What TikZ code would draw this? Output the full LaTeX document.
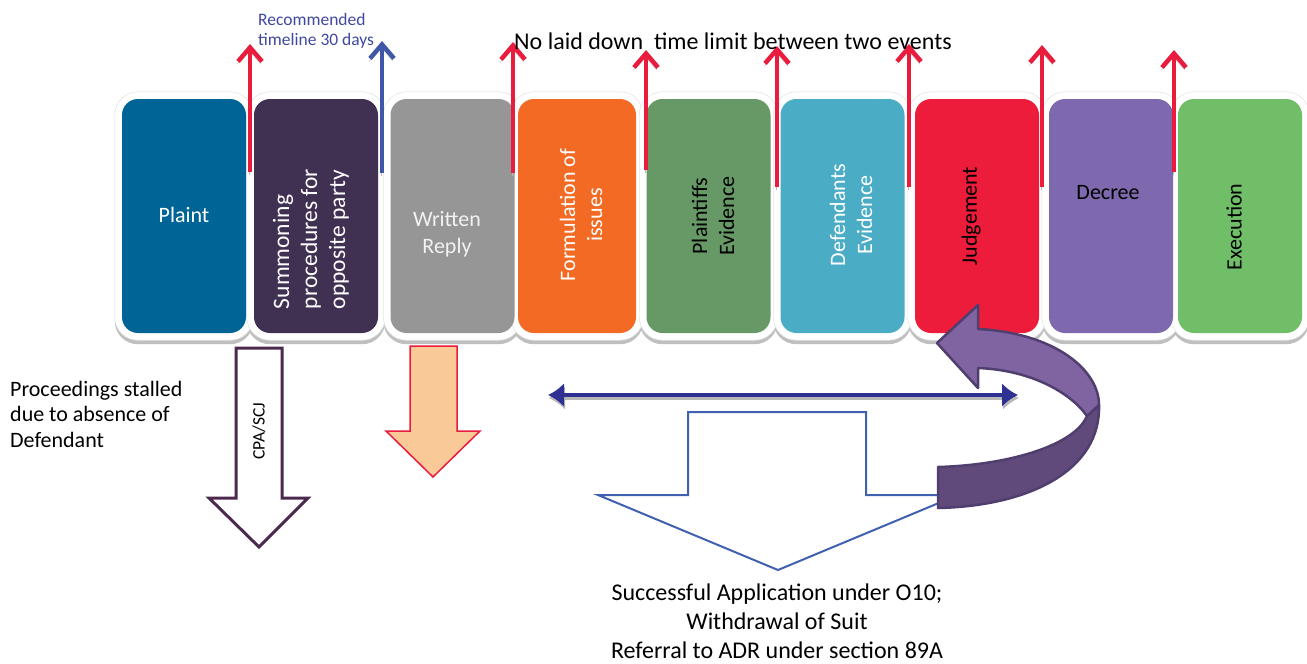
\documentclass[tikz,border=0pt]{standalone}
\usepackage{fontspec}
\setmainfont{Carlito}
\usetikzlibrary{arrows.meta,backgrounds}

\definecolor{plaintblue}{RGB}{0,100,150}
\definecolor{summonpurple}{RGB}{64,49,82}
\definecolor{replygray}{RGB}{150,150,150}
\definecolor{replytext}{RGB}{242,242,242}
\definecolor{issuesorange}{RGB}{242,106,36}
\definecolor{pevidgreen}{RGB}{102,153,102}
\definecolor{devidcyan}{RGB}{75,172,198}
\definecolor{judgered}{RGB}{237,28,58}
\definecolor{decreepurple}{RGB}{127,105,174}
\definecolor{execgreen}{RGB}{112,191,104}
\definecolor{arrowred}{RGB}{233,28,62}
\definecolor{arrowblue}{RGB}{63,87,166}
\definecolor{recblue}{RGB}{63,72,160}
\definecolor{spanblue}{RGB}{46,49,146}
\definecolor{outcomeblue}{RGB}{64,96,176}
\definecolor{cpaplum}{RGB}{76,42,80}
\definecolor{peach}{RGB}{250,201,152}
\definecolor{curvelight}{RGB}{128,100,162}
\definecolor{curvedark}{RGB}{96,74,123}
\definecolor{curveedge}{RGB}{80,62,110}

\tikzset{
  stage/.style={fill=#1, rounded corners=16pt, minimum width=124pt, minimum height=234pt, inner sep=0pt},
  lbl/.style={text=#1, font=\fontsize{22}{27}\selectfont, align=center},
  uparrow/.style={draw=#1, line width=4.5pt, -{Straight Barb[length=14pt,width=24pt]},
    preaction={draw=black!28, transform canvas={shift={(-1pt,-3pt)}}}},
  spantip/.tip={Latex[length=16pt,width=24pt]},
}

\begin{document}
\begin{tikzpicture}[x=1pt, y=-1pt]
    \useasboundingbox (0,0) rectangle (1307,664);

    % the stages of a suit
    \node[stage=plaintblue] (plaint) at (184,216) {};
    \node[stage=summonpurple] (summon) at (316,216) {};
    \node[stage=replygray] (reply) at (452.5,216) {};
    \node[stage=issuesorange, minimum width=118pt] (issues) at (577,216) {};
    \node[stage=pevidgreen] (pevid) at (708.5,216) {};
    \node[stage=devidcyan] (devid) at (842.5,216) {};
    \node[stage=judgered] (judge) at (977,216) {};
    \node[stage=decreepurple] (decree) at (1111,216) {};
    \node[stage=execgreen] (exec) at (1240,216) {};

    % white frames with their shadow
    \begin{scope}[on background layer]
        \foreach \n in {plaint,summon,reply,issues,pevid,devid,judge,decree,exec}
            \fill[black!25, rounded corners=23pt] ([shift={(-7pt,-11pt)}]\n.south west) rectangle ([shift={(7pt,3pt)}]\n.north east);
        \foreach \n in {plaint,summon,reply,issues,pevid,devid,judge,decree,exec}
            \filldraw[fill=white, draw=black!10, line width=0.6pt, rounded corners=23pt] ([shift={(-7pt,-7pt)}]\n.south west) rectangle ([shift={(7pt,7pt)}]\n.north east);
    \end{scope}

    \node[lbl=white] (plaintlbl) at (184,215) {Plaint};
    \node[lbl=white, rotate=90, align=left, font=\fontsize{23.5}{28}\selectfont] (summonlbl) at (311,239) {Summoning\\procedures for\\opposite party};
    \node[lbl=replytext] (replylbl) at (447,234) {Written\\Reply};
    \node[lbl=white, rotate=90] (issueslbl) at (581,215) {Formulation of\\issues};
    \node[lbl=black, rotate=90] (pevidlbl) at (713,216) {Plaintiffs\\Evidence};
    \node[lbl=white, rotate=90] (devidlbl) at (851,215) {Defendants\\Evidence};
    \node[lbl=black, rotate=90] (judgelbl) at (971,216) {Judgement};
    \node[lbl=black] (decreelbl) at (1108,193) {Decree};
    \node[lbl=black, rotate=90] (execlbl) at (1234,227) {Execution};

    % time markers between stages
    \draw[uparrow=arrowred] (250,172) -- (250,44);
    \draw[uparrow=arrowblue] (382,173) -- (382,41);
    \draw[uparrow=arrowred] (513,173) -- (513,42);
    \draw[uparrow=arrowred] (646,170) -- (646,50);
    \draw[uparrow=arrowred] (777,187) -- (777,46);
    \draw[uparrow=arrowred] (909,187) -- (909,44);
    \draw[uparrow=arrowred] (1042,187) -- (1042,45);
    \draw[uparrow=arrowred] (1174,172) -- (1174,50);

    \node[anchor=north west, align=left, inner sep=0pt, text=recblue, font=\fontsize{17.5}{20}\selectfont] (rectext) at (258,13) {Recommended\\timeline 30 days};
    \node[anchor=base west, inner sep=0pt, font=\fontsize{24}{28}\selectfont] (nolimit) at (514,49) {No laid down~ time limit between two events};

    % stalled proceedings
    \node[anchor=north west, align=left, inner sep=0pt, font=\fontsize{22}{25.5}\selectfont] (stalled) at (10,381) {Proceedings stalled\\due to absence of\\Defendant};
    \draw[cpaplum, fill=white, line width=3pt] (236,348) -- (282,348) -- (282,498) -- (308,498) -- (259,547) -- (209,498) -- (236,498) -- cycle;
    \node[rotate=90, font=\fontsize{17.5}{20}\selectfont] (cpa) at (259,431) {CPA/SCJ};

    \draw[arrowred, fill=peach, line width=1.5pt] (410,346) -- (457,346) -- (457,431) -- (480,431) -- (433,477) -- (386,431) -- (410,431) -- cycle;

    % span between issues and judgement
    \draw[black!28, line width=4pt, {spantip}-{spantip}] (549,398) -- (1019,398);
    \draw[spanblue, line width=4pt, {spantip}-{spantip}] (548,395) -- (1018,395);

    \draw[outcomeblue, fill=white, line width=2pt] (688,412) -- (866,412) -- (866,495) -- (958,495) -- (778,570) -- (598,495) -- (688,495) -- cycle;
    \node[anchor=north, align=center, inner sep=0pt, font=\fontsize{24}{29}\selectfont] (outcome) at (777,584) {Successful Application under O10;\\Withdrawal of Suit\\Referral to ADR under section 89A};

    % curved arrow back to judgement
    \filldraw[fill=curvedark, draw=curveedge, line width=2.5pt, line join=round] (1099,405) .. controls (1101,470) and (1030,506) .. (938,508) -- (938,467) .. controls (1010,465) and (1075,445) .. (1087,416) -- cycle;
    \filldraw[fill=curvelight, draw=curveedge, line width=2.5pt, line join=round] (978,329) .. controls (1055,333) and (1099,370) .. (1099,405) -- (1087,416) .. controls (1070,392) and (1030,370) .. (978,368) -- (978,388) -- (937,343) -- (978,305) -- cycle;
\end{tikzpicture}
\end{document}
